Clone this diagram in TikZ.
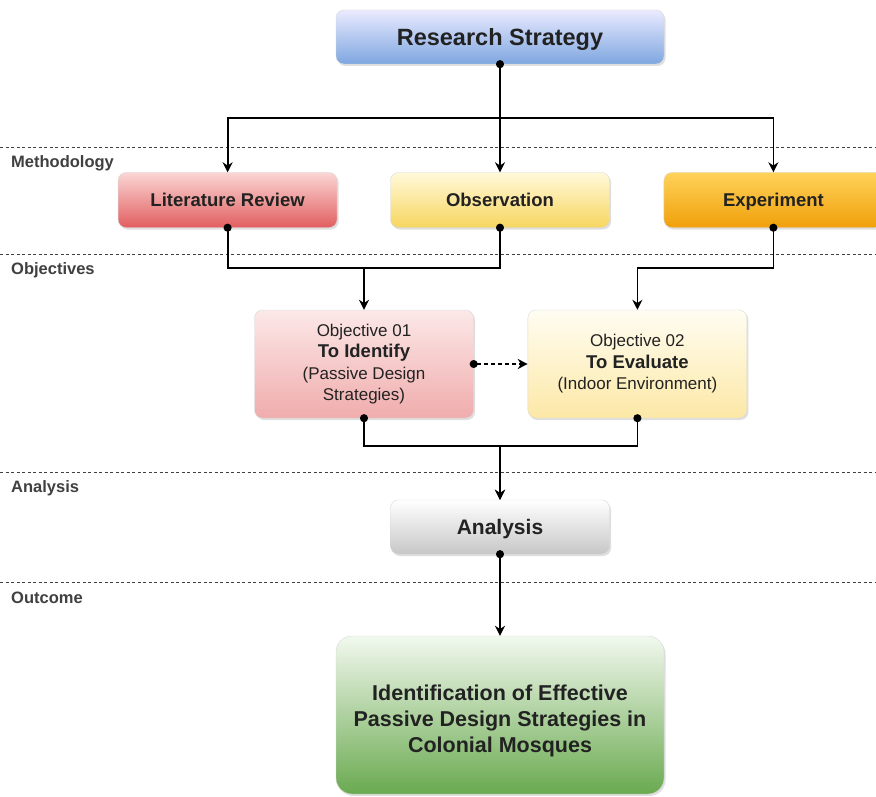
\documentclass[tikz,border=0pt]{standalone}
\usepackage{fontspec}
\setmainfont{Liberation Sans}
\usetikzlibrary{arrows.meta,shadows,positioning}

\definecolor{boxtext}{HTML}{222222}

\begin{document}
\begin{tikzpicture}[x=1pt, y=-1pt,
  main/.style = {rounded corners=8pt, minimum width=219pt, minimum height=55pt, align=center,
    text=boxtext, draw=black!15, line width=0.4pt, font=\fontsize{18.5}{21}\selectfont\bfseries,
    drop shadow={shadow xshift=1.5pt, shadow yshift=-2pt, opacity=0.25}},
  single/.style = {text depth=0pt},
  obj/.style = {main, minimum height=108pt, font=\fontsize{17}{21.5}\selectfont},
  shblue/.style = {top color=blue!8, bottom color={rgb,255:red,126;green,166;blue,224}},
  shred/.style = {top color={rgb,255:red,250;green,214;blue,212}, bottom color={rgb,255:red,226;green,94;blue,96}},
  shyellow/.style = {top color={rgb,255:red,255;green,249;blue,218}, bottom color={rgb,255:red,247;green,214;blue,96}},
  shorange/.style = {top color={rgb,255:red,255;green,210;blue,90}, bottom color={rgb,255:red,240;green,160;blue,10}},
  shpink/.style = {top color={rgb,255:red,252;green,232;blue,232}, bottom color={rgb,255:red,240;green,172;blue,172}},
  shcream/.style = {top color={rgb,255:red,255;green,253;blue,242}, bottom color={rgb,255:red,252;green,232;blue,166}},
  shgray/.style = {top color=white, bottom color=black!22},
  shgreen/.style = {top color={rgb,255:red,242;green,248;blue,238}, bottom color={rgb,255:red,106;green,170;blue,80}},
  link/.style = {line width=1.8pt, -{Stealth[length=10pt, width=10pt]}},
  dotline/.style = {line width=1.8pt, {Circle[length=8pt]}-, shorten <=-4pt},
  dotlink/.style = {link, {Circle[length=8pt]}-{Stealth[length=10pt, width=10pt]}, shorten <=-4pt},
  sep/.style = {line width=0.9pt, black!75, dash pattern=on 3pt off 2.5pt},
  lab/.style = {anchor=west, inner sep=0pt, text=black!75, font=\fontsize{16.5}{18}\selectfont\bfseries}]

\useasboundingbox[fill=white] (0,0) rectangle (876,797);

% section separators
\foreach \y/\t in {147/Methodology, 254/Objectives, 472/Analysis, 582/Outcome} {
  \draw[sep] (0,\y) -- (876,\y);
  \node[lab] (lab-\y) at (11,\y+16) {\t};
}

\node[main, single, shblue, minimum width=328pt, minimum height=54pt, font=\fontsize{23.5}{26}\selectfont\bfseries] (1) at (500,37) {Research Strategy};
\node[main, single, shyellow] (3) at (500,200) {Observation};
\node[main, single, shred] (2) [left=53pt of 3] {Literature Review};
\node[main, single, shorange] (4) [right=54pt of 3] {Experiment};

\node[obj, shpink] (5) at (364,364) {Objective 01\\\textbf{\fontsize{18.5}{21.5}\selectfont To Identify}\\(Passive Design\\Strategies)};
\node[obj, shcream] (6) [right=54pt of 5] {Objective 02\\\textbf{\fontsize{18.5}{21.5}\selectfont To Evaluate}\\(Indoor Environment)};

\node[main, single, shgray, minimum height=54pt, font=\fontsize{21}{24}\selectfont\bfseries] (7) at (500,527) {Analysis};
\node[main, shgreen, rounded corners=16pt, minimum width=328pt, minimum height=158pt] (8) at (500,715) {};
\node[align=center, text=boxtext, font=\fontsize{21.5}{26}\selectfont\bfseries] (8t) at (500,721)
  {Identification of Effective\\Passive Design Strategies in\\Colonial Mosques};

\coordinate (s) at (500,118);
\coordinate (j1) at (364,268);

\draw[dotline] (1.south) -- (s);
\draw[link] (s) -| (2);
\draw[link] (s) -- (3);
\draw[link] (s) -| (4);

\draw[dotline] (2.south) |- (j1);
\draw[dotline] (3.south) |- (j1);
\draw[link] (j1) -- (5);
\draw[dotlink] (4.south) -- ++(0,40) -| (6);

\draw[dotlink, dash pattern=on 4pt off 3pt] (5.east) -- (6.west);

\draw[dotlink] (5.south) -- ++(0,28) -| (7);
\draw[dotlink] (6.south) -- ++(0,28) -| (7);
\draw[dotlink] (7) -- (8);
\end{tikzpicture}
\end{document}
